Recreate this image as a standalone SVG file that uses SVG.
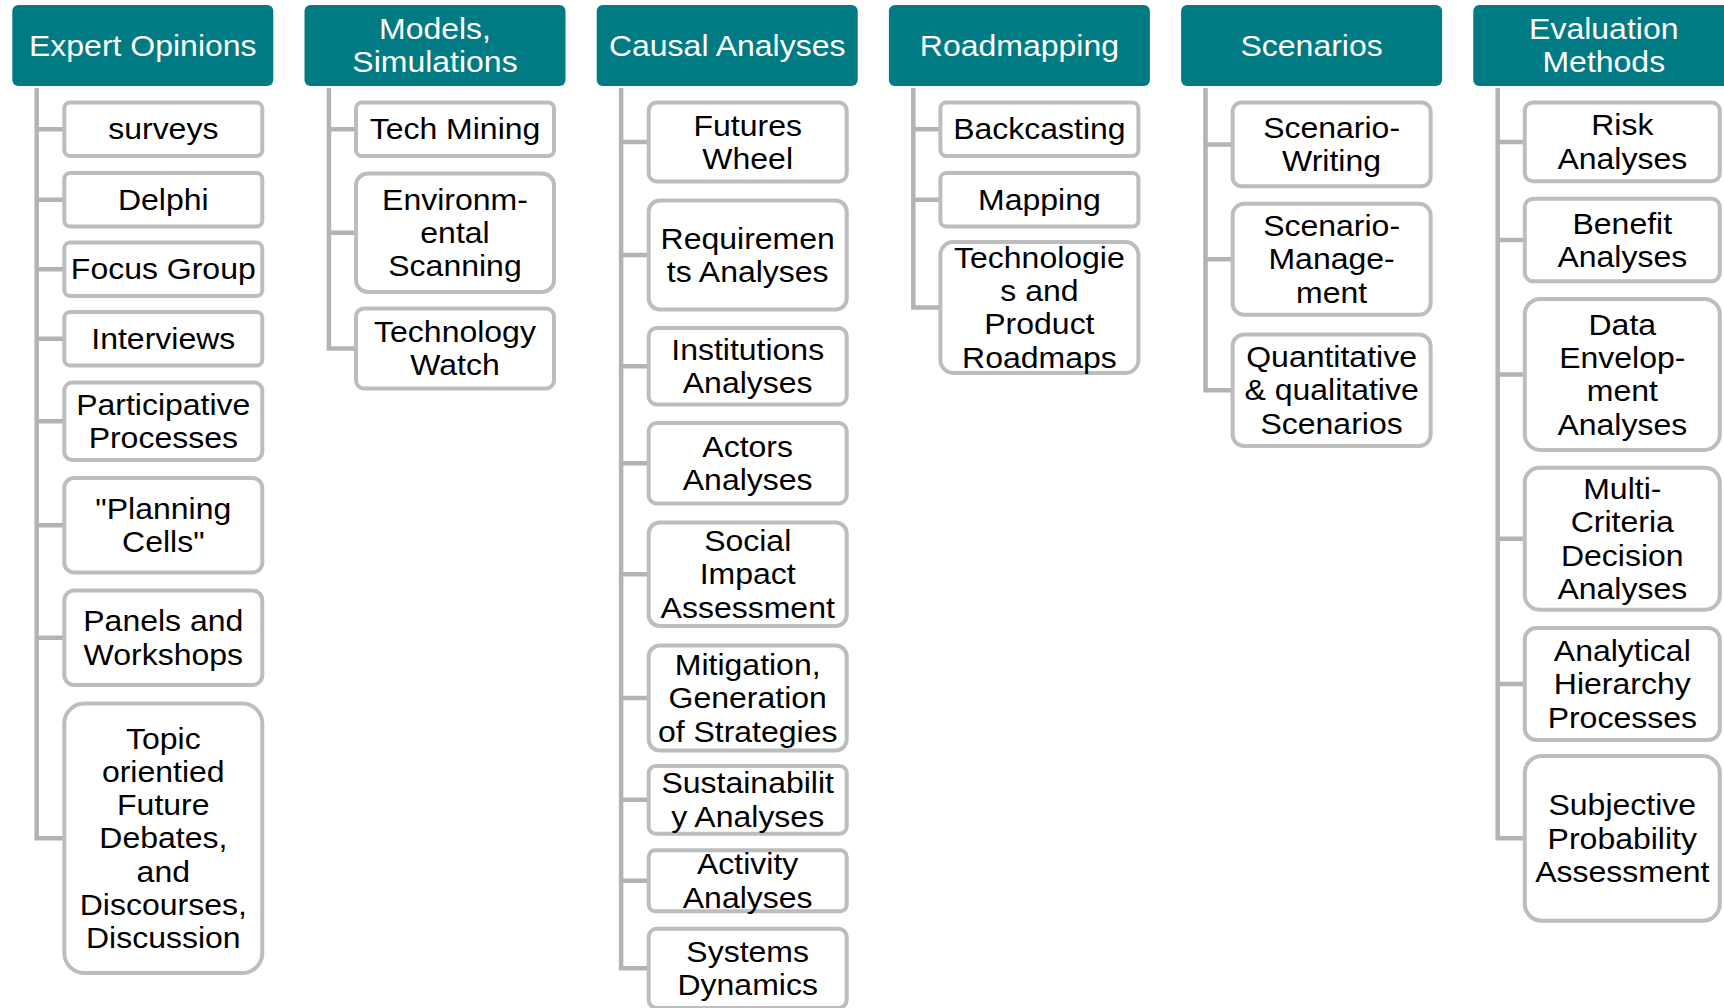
<svg xmlns="http://www.w3.org/2000/svg" width="1724" height="1008" viewBox="0 0 1724 1008">
<style>
.hdr{fill:#007A83}
.box{fill:#FFFFFF;stroke:#BDBDBD;stroke-width:4}
.ht{font-family:"Liberation Sans",Arial,sans-serif;font-size:32px;fill:#FFFFFF;text-anchor:middle}
.bt{font-family:"Liberation Sans",Arial,sans-serif;font-size:32px;fill:#000000;text-anchor:middle}
.conn{fill:none;stroke:#B3B3B3;stroke-width:4.5}
</style>
<rect x="0" y="0" width="1724" height="1008" fill="#FFFFFF"/>
<g id="connectors">
<path class="conn" d="M36.7 88V838.25H64.3M36.7 129.25H64.3M36.7 199.75H64.3M36.7 269.25H64.3M36.7 338.75H64.3M36.7 421.25H64.3M36.7 525.25H64.3M36.7 637.75H64.3"/>
<path class="conn" d="M328.9 88V348.5H356M328.9 129.25H356M328.9 232.75H356"/>
<path class="conn" d="M621.1 88V968.35H648.7M621.1 142H648.7M621.1 255H648.7M621.1 366.25H648.7M621.1 463.25H648.7M621.1 574.25H648.7M621.1 698H648.7M621.1 799.85H648.7M621.1 880.8H648.7"/>
<path class="conn" d="M913.3 88V307.5H940.4M913.3 129.25H940.4M913.3 199.75H940.4"/>
<path class="conn" d="M1205.5 88V390.25H1232.6M1205.5 144.4H1232.6M1205.5 259.2H1232.6"/>
<path class="conn" d="M1497.7 88V838.35H1524.8M1497.7 141.9H1524.8M1497.7 240H1524.8M1497.7 374.45H1524.8M1497.7 538.75H1524.8M1497.7 684H1524.8"/>
</g>

<!-- Column 1 -->
<g id="h-expert">
<rect class="hdr" x="12.3" y="5" width="261" height="81" rx="6"/>
<text class="ht" transform="matrix(1 0 0 0.92 0 3.64)"><tspan x="142.8" y="56.6">Expert Opinions</tspan></text>
</g>
<g id="n-surveys">
<rect class="box" x="64.3" y="102.5" width="198" height="53.5" rx="6"/>
<text class="bt" transform="matrix(1 0 0 0.92 0 10.34)"><tspan x="163.3" y="140.35">surveys</tspan></text>
</g>
<g id="n-delphi">
<rect class="box" x="64.3" y="173" width="198" height="53.5" rx="6"/>
<text class="bt" transform="matrix(1 0 0 0.92 0 15.98)"><tspan x="163.3" y="210.85">Delphi</tspan></text>
</g>
<g id="n-focus">
<rect class="box" x="64.3" y="242.5" width="198" height="53.5" rx="6"/>
<text class="bt" transform="matrix(1 0 0 0.92 0 21.54)"><tspan x="163.3" y="280.35">Focus Group</tspan></text>
</g>
<g id="n-interviews">
<rect class="box" x="64.3" y="312" width="198" height="53.5" rx="6"/>
<text class="bt" transform="matrix(1 0 0 0.92 0 27.1)"><tspan x="163.3" y="349.85">Interviews</tspan></text>
</g>
<g id="n-participative">
<rect class="box" x="64.3" y="382.5" width="198" height="77.5" rx="8"/>
<text class="bt" transform="matrix(1 0 0 0.92 0 33.7)"><tspan x="163.3" y="414.25">Participative</tspan><tspan x="163.3" y="450.45">Processes</tspan></text>
</g>
<g id="n-planning">
<rect class="box" x="64.3" y="478" width="198" height="94.5" rx="10"/>
<text class="bt" transform="matrix(1 0 0 0.92 0 42.02)"><tspan x="163.3" y="518.25">"Planning</tspan><tspan x="163.3" y="554.45">Cells"</tspan></text>
</g>
<g id="n-panels">
<rect class="box" x="64.3" y="590.5" width="198" height="94.5" rx="10"/>
<text class="bt" transform="matrix(1 0 0 0.92 0 51.02)"><tspan x="163.3" y="630.75">Panels and</tspan><tspan x="163.3" y="666.95">Workshops</tspan></text>
</g>
<g id="n-topic">
<rect class="box" x="64.3" y="703.5" width="198" height="269.5" rx="20"/>
<text class="bt" transform="matrix(1 0 0 0.92 0 67.06)"><tspan x="163.3" y="740.75">Topic</tspan><tspan x="163.3" y="776.95">orientied</tspan><tspan x="163.3" y="813.15">Future</tspan><tspan x="163.3" y="849.35">Debates,</tspan><tspan x="163.3" y="885.55">and</tspan><tspan x="163.3" y="921.75">Discourses,</tspan><tspan x="163.3" y="957.95">Discussion</tspan></text>
</g>

<!-- Column 2 -->
<g id="h-models">
<rect class="hdr" x="304.5" y="5" width="261" height="81" rx="6"/>
<text class="ht" transform="matrix(1 0 0 0.92 0 3.64)"><tspan x="435" y="38.5">Models,</tspan><tspan x="435" y="74.7">Simulations</tspan></text>
</g>
<g id="n-techmining">
<rect class="box" x="356" y="102.5" width="198" height="53.5" rx="6"/>
<text class="bt" transform="matrix(1 0 0 0.92 0 10.34)"><tspan x="455" y="140.35">Tech Mining</tspan></text>
</g>
<g id="n-envscan">
<rect class="box" x="356" y="173.5" width="198" height="118.5" rx="12"/>
<text class="bt" transform="matrix(1 0 0 0.92 0 18.62)"><tspan x="455" y="207.65">Environm-</tspan><tspan x="455" y="243.85">ental</tspan><tspan x="455" y="280.05">Scanning</tspan></text>
</g>
<g id="n-techwatch">
<rect class="box" x="356" y="308.5" width="198" height="80" rx="8"/>
<text class="bt" transform="matrix(1 0 0 0.92 0 27.88)"><tspan x="455" y="341.5">Technology</tspan><tspan x="455" y="377.7">Watch</tspan></text>
</g>

<!-- Column 3 -->
<g id="h-causal">
<rect class="hdr" x="596.7" y="5" width="261" height="81" rx="6"/>
<text class="ht" transform="matrix(1 0 0 0.92 0 3.64)"><tspan x="727.2" y="56.6">Causal Analyses</tspan></text>
</g>
<g id="n-futures">
<rect class="box" x="648.7" y="102.5" width="198" height="79" rx="8"/>
<text class="bt" transform="matrix(1 0 0 0.92 0 11.36)"><tspan x="747.7" y="135">Futures</tspan><tspan x="747.7" y="171.2">Wheel</tspan></text>
</g>
<g id="n-requirements">
<rect class="box" x="648.7" y="200.5" width="198" height="109" rx="11"/>
<text class="bt" transform="matrix(1 0 0 0.92 0 20.4)"><tspan x="747.7" y="248">Requiremen</tspan><tspan x="747.7" y="284.2">ts Analyses</tspan></text>
</g>
<g id="n-institutions">
<rect class="box" x="648.7" y="328" width="198" height="76.5" rx="8"/>
<text class="bt" transform="matrix(1 0 0 0.92 0 29.3)"><tspan x="747.7" y="359.25">Institutions</tspan><tspan x="747.7" y="395.45">Analyses</tspan></text>
</g>
<g id="n-actors">
<rect class="box" x="648.7" y="423" width="198" height="80.5" rx="8"/>
<text class="bt" transform="matrix(1 0 0 0.92 0 37.06)"><tspan x="747.7" y="456.25">Actors</tspan><tspan x="747.7" y="492.45">Analyses</tspan></text>
</g>
<g id="n-social">
<rect class="box" x="648.7" y="522.5" width="198" height="103.5" rx="11"/>
<text class="bt" transform="matrix(1 0 0 0.92 0 45.94)"><tspan x="747.7" y="549.15">Social</tspan><tspan x="747.7" y="585.35">Impact</tspan><tspan x="747.7" y="621.55">Assessment</tspan></text>
</g>
<g id="n-mitigation">
<rect class="box" x="648.7" y="645.5" width="198" height="105" rx="11"/>
<text class="bt" transform="matrix(1 0 0 0.92 0 55.84)"><tspan x="747.7" y="672.9">Mitigation,</tspan><tspan x="747.7" y="709.1">Generation</tspan><tspan x="747.7" y="745.3">of Strategies</tspan></text>
</g>
<g id="n-sustainability">
<rect class="box" x="648.7" y="766" width="198" height="67.7" rx="7"/>
<text class="bt" transform="matrix(1 0 0 0.92 0 63.99)"><tspan x="747.7" y="792.85">Sustainabilit</tspan><tspan x="747.7" y="829.05">y Analyses</tspan></text>
</g>
<g id="n-activity">
<rect class="box" x="648.7" y="850.3" width="198" height="61" rx="6.5"/>
<text class="bt" transform="matrix(1 0 0 0.92 0 70.46)"><tspan x="747.7" y="873.8">Activity</tspan><tspan x="747.7" y="910">Analyses</tspan></text>
</g>
<g id="n-systems">
<rect class="box" x="648.7" y="928.7" width="198" height="79.3" rx="8"/>
<text class="bt" transform="matrix(1 0 0 0.92 0 77.47)"><tspan x="747.7" y="961.35">Systems</tspan><tspan x="747.7" y="997.55">Dynamics</tspan></text>
</g>

<!-- Column 4 -->
<g id="h-roadmapping">
<rect class="hdr" x="888.9" y="5" width="261" height="81" rx="6"/>
<text class="ht" transform="matrix(1 0 0 0.92 0 3.64)"><tspan x="1019.4" y="56.6">Roadmapping</tspan></text>
</g>
<g id="n-backcasting">
<rect class="box" x="940.4" y="102.5" width="198" height="53.5" rx="6"/>
<text class="bt" transform="matrix(1 0 0 0.92 0 10.34)"><tspan x="1039.4" y="140.35">Backcasting</tspan></text>
</g>
<g id="n-mapping">
<rect class="box" x="940.4" y="173" width="198" height="53.5" rx="6"/>
<text class="bt" transform="matrix(1 0 0 0.92 0 15.98)"><tspan x="1039.4" y="210.85">Mapping</tspan></text>
</g>
<g id="n-techroadmaps">
<rect class="box" x="940.4" y="242" width="198" height="131" rx="13"/>
<text class="bt" transform="matrix(1 0 0 0.92 0 24.6)"><tspan x="1039.4" y="264.3">Technologie</tspan><tspan x="1039.4" y="300.5">s and</tspan><tspan x="1039.4" y="336.7">Product</tspan><tspan x="1039.4" y="372.9">Roadmaps</tspan></text>
</g>

<!-- Column 5 -->
<g id="h-scenarios">
<rect class="hdr" x="1181.1" y="5" width="261" height="81" rx="6"/>
<text class="ht" transform="matrix(1 0 0 0.92 0 3.64)"><tspan x="1311.6" y="56.6">Scenarios</tspan></text>
</g>
<g id="n-scenwriting">
<rect class="box" x="1232.6" y="102.5" width="198" height="83.8" rx="9"/>
<text class="bt" transform="matrix(1 0 0 0.92 0 11.55)"><tspan x="1331.6" y="137.4">Scenario-</tspan><tspan x="1331.6" y="173.6">Writing</tspan></text>
</g>
<g id="n-scenmanagement">
<rect class="box" x="1232.6" y="203.7" width="198" height="111" rx="11.5"/>
<text class="bt" transform="matrix(1 0 0 0.92 0 20.74)"><tspan x="1331.6" y="234.1">Scenario-</tspan><tspan x="1331.6" y="270.3">Manage-</tspan><tspan x="1331.6" y="306.5">ment</tspan></text>
</g>
<g id="n-quantqual">
<rect class="box" x="1232.6" y="334.5" width="198" height="111.5" rx="11.5"/>
<text class="bt" transform="matrix(1 0 0 0.92 0 31.22)"><tspan x="1331.6" y="365.15">Quantitative</tspan><tspan x="1331.6" y="401.35">&amp; qualitative</tspan><tspan x="1331.6" y="437.55">Scenarios</tspan></text>
</g>

<!-- Column 6 -->
<g id="h-evaluation">
<rect class="hdr" x="1473.3" y="5" width="261" height="81" rx="6"/>
<text class="ht" transform="matrix(1 0 0 0.92 0 3.64)"><tspan x="1603.8" y="38.5">Evaluation</tspan><tspan x="1603.8" y="74.7">Methods</tspan></text>
</g>
<g id="n-risk">
<rect class="box" x="1524.8" y="102.5" width="195" height="78.8" rx="8"/>
<text class="bt" transform="matrix(1 0 0 0.92 0 11.35)"><tspan x="1622.3" y="134.9">Risk</tspan><tspan x="1622.3" y="171.1">Analyses</tspan></text>
</g>
<g id="n-benefit">
<rect class="box" x="1524.8" y="198.7" width="195" height="82.6" rx="8.5"/>
<text class="bt" transform="matrix(1 0 0 0.92 0 19.2)"><tspan x="1622.3" y="233">Benefit</tspan><tspan x="1622.3" y="269.2">Analyses</tspan></text>
</g>
<g id="n-dataenv">
<rect class="box" x="1524.8" y="298.9" width="195" height="151.1" rx="15.5"/>
<text class="bt" transform="matrix(1 0 0 0.92 0 29.96)"><tspan x="1622.3" y="331.25">Data</tspan><tspan x="1622.3" y="367.45">Envelop-</tspan><tspan x="1622.3" y="403.65">ment</tspan><tspan x="1622.3" y="439.85">Analyses</tspan></text>
</g>
<g id="n-multicriteria">
<rect class="box" x="1524.8" y="467.8" width="195" height="141.9" rx="14.5"/>
<text class="bt" transform="matrix(1 0 0 0.92 0 43.1)"><tspan x="1622.3" y="495.55">Multi-</tspan><tspan x="1622.3" y="531.75">Criteria</tspan><tspan x="1622.3" y="567.95">Decision</tspan><tspan x="1622.3" y="604.15">Analyses</tspan></text>
</g>
<g id="n-ahp">
<rect class="box" x="1524.8" y="628" width="195" height="112" rx="11.5"/>
<text class="bt" transform="matrix(1 0 0 0.92 0 54.72)"><tspan x="1622.3" y="658.9">Analytical</tspan><tspan x="1622.3" y="695.1">Hierarchy</tspan><tspan x="1622.3" y="731.3">Processes</tspan></text>
</g>
<g id="n-subjective">
<rect class="box" x="1524.8" y="756" width="195" height="164.7" rx="17"/>
<text class="bt" transform="matrix(1 0 0 0.92 0 67.07)"><tspan x="1622.3" y="813.25">Subjective</tspan><tspan x="1622.3" y="849.45">Probability</tspan><tspan x="1622.3" y="885.65">Assessment</tspan></text>
</g>
</svg>
